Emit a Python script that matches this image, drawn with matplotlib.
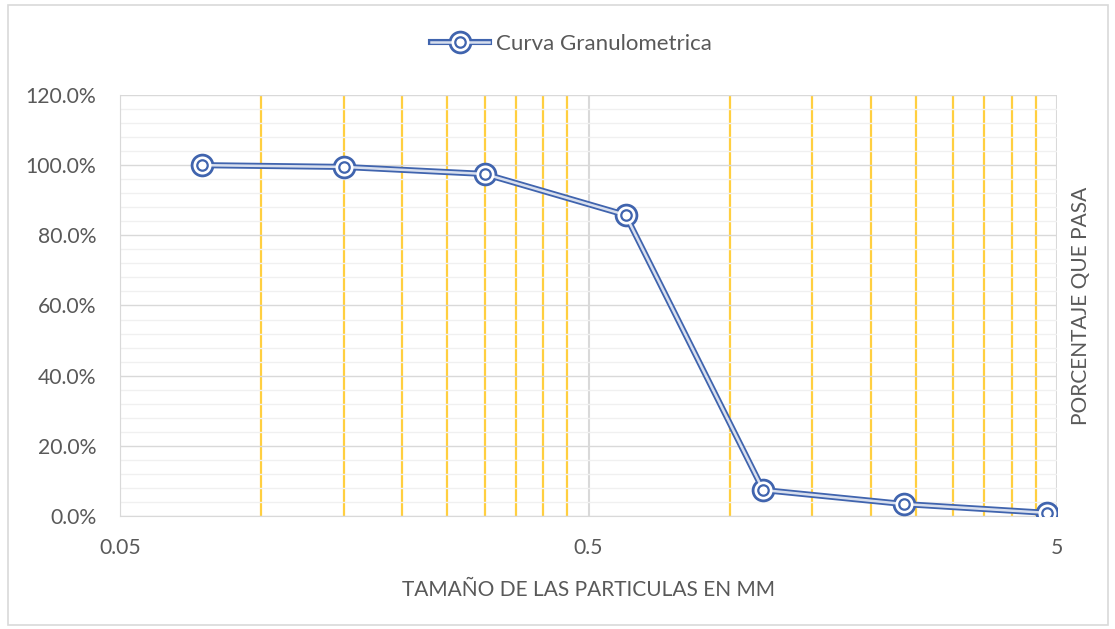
import matplotlib
matplotlib.use('Agg')
import matplotlib.pyplot as plt
from matplotlib.ticker import FixedLocator, FuncFormatter, MultipleLocator, NullFormatter
from matplotlib.legend_handler import HandlerTuple

# sieve opening (mm) and percent passing
sizes = [0.075, 0.15, 0.3, 0.6, 1.18, 2.36, 4.75]
passing = [1.000, 0.995, 0.975, 0.858, 0.074, 0.034, 0.009]

x_ticks = [0.05, 0.5, 5]
x_labels = ['0.05', '0.5', '5']
minor_x = [0.1, 0.15, 0.2, 0.25, 0.3, 0.35, 0.4, 0.45,
           1.0, 1.5, 2.0, 2.5, 3.0, 3.5, 4.0, 4.5]

plt.rcParams['font.family'] = ['Lato', 'DejaVu Sans']
txt = '#595959'
blue = '#4064AE'

fig = plt.figure(figsize=(11.15, 6.29), dpi=100)
ax = fig.add_axes([120/1115, 113/629, 937/1115, 421/629])

ax.set_xscale('log')
ax.set_xlim(0.05, 5)
ax.set_ylim(0, 1.2)

# gridlines
ax.xaxis.set_major_locator(FixedLocator(x_ticks))
ax.xaxis.set_major_formatter(FuncFormatter(lambda v, p: x_labels[x_ticks.index(v)] if v in x_ticks else ''))
ax.xaxis.set_minor_locator(FixedLocator(minor_x))
ax.xaxis.set_minor_formatter(NullFormatter())
ax.yaxis.set_major_locator(MultipleLocator(0.2))
ax.yaxis.set_minor_locator(MultipleLocator(0.04))
ax.yaxis.set_major_formatter(FuncFormatter(lambda v, p: f'{v*100:.1f}%'))

ax.grid(which='minor', axis='y', color='#f0f0f0', lw=1.0, zorder=0)
ax.grid(which='major', axis='y', color='#d9d9d9', lw=1.0, zorder=0)
ax.grid(which='major', axis='x', color='#d9d9d9', lw=1.5, zorder=0)
ax.grid(which='minor', axis='x', color='#FFC000', lw=1.6, alpha=0.75, zorder=1)

for s in ['top', 'right']:
    ax.spines[s].set_visible(False)
ax.spines['left'].set_color('#d9d9d9')
ax.spines['bottom'].set_color('#d9d9d9')
ax.tick_params(which='both', length=0, colors=txt, labelsize=15.2, pad=17)
ax.tick_params(axis='x', pad=16)

# compound (double) line with ringed markers
outer, = ax.plot(sizes, passing, color=blue, lw=4.4, marker='o', ms=15,
                 mfc='white', mec=blue, mew=2.0, zorder=3)
inner, = ax.plot(sizes, passing, color='white', lw=1.8, alpha=0.8, zorder=4)
dots, = ax.plot(sizes, passing, ls='none', marker='o', ms=7.5,
                mfc='white', mec=blue, mew=1.6, zorder=5)

ax.set_xlabel('TAMAÑO DE LAS PARTICULAS EN MM', color=txt, fontsize=15, labelpad=16)
ax.yaxis.set_label_position('right')
ax.set_ylabel('PORCENTAJE QUE PASA', color=txt, fontsize=15, labelpad=10)

leg = ax.legend([(outer, inner, dots)], ['Curva Granulometrica'],
                handler_map={tuple: HandlerTuple(ndivide=1, pad=0)},
                loc='lower center', bbox_to_anchor=(0.482, 1.05), frameon=False,
                fontsize=16, handlelength=2.6, handletextpad=0.3,
                numpoints=1)
for t in leg.get_texts():
    t.set_color(txt)

# chart area border
fig.patches.append(plt.Rectangle((8/1115, 4/629), 1100/1115, 620/629,
                                 transform=fig.transFigure, fill=False,
                                 ec='#d9d9d9', lw=1.2))

fig.savefig('out.png', dpi=100)
